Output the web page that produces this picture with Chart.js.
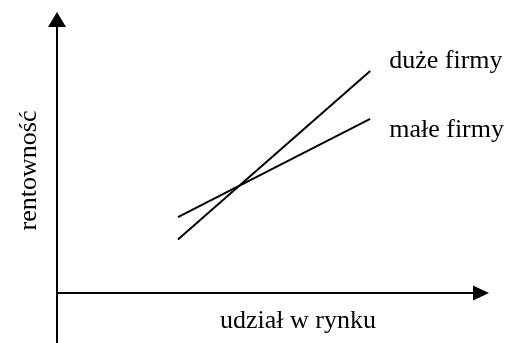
<!DOCTYPE html>
<html>
<head>
<meta charset="utf-8">
<script src="https://cdn.jsdelivr.net/npm/chart.js@4.4.1/dist/chart.umd.min.js"></script>
<style>
  html, body { margin: 0; padding: 0; background: #ffffff; }
  #wrap { width: 508px; height: 343px; }
</style>
</head>
<body>
<div id="wrap"><canvas id="c" width="508" height="343"></canvas></div>
<script>
// Market share (x) against profitability (y), conceptual scale 0–100
const marketShare = [28, 72.5];
const largeFirms = [19, 79];
const smallFirms = [27, 62];
const seriesNames = ['duże firmy', 'małe firmy'];
const xAxisTitle = 'udział w rynku';
const yAxisTitle = 'rentowność';

const FONT = '26px "Liberation Serif", "Times New Roman", serif';

function toPoints(xs, ys) {
  return xs.map((x, i) => ({ x: x, y: ys[i] }));
}

// Draws the arrowed axes, the axis titles and the line labels
const diagramPlugin = {
  id: 'diagram',
  afterDatasetsDraw(chart) {
    const ctx = chart.ctx;
    const xs = chart.scales.x, ys = chart.scales.y;
    const x0 = xs.getPixelForValue(xs.min);
    const x1 = xs.getPixelForValue(xs.max);
    const y0 = ys.getPixelForValue(ys.min);
    const y1 = ys.getPixelForValue(ys.max);
    ctx.save();
    ctx.strokeStyle = '#000';
    ctx.fillStyle = '#000';
    ctx.lineWidth = 2;
    // vertical axis, running slightly below the horizontal one
    ctx.beginPath();
    ctx.moveTo(x0, chart.height);
    ctx.lineTo(x0, y1 + 15);
    ctx.stroke();
    ctx.beginPath();
    ctx.moveTo(x0, y1);
    ctx.lineTo(x0 - 9, y1 + 15);
    ctx.lineTo(x0 + 9, y1 + 15);
    ctx.closePath();
    ctx.fill();
    // horizontal axis
    ctx.beginPath();
    ctx.moveTo(x0, y0);
    ctx.lineTo(x1 - 16, y0);
    ctx.stroke();
    ctx.beginPath();
    ctx.moveTo(x1, y0);
    ctx.lineTo(x1 - 16, y0 - 7.5);
    ctx.lineTo(x1 - 16, y0 + 7.5);
    ctx.closePath();
    ctx.fill();

    ctx.font = FONT;
    ctx.textBaseline = 'alphabetic';
    // x-axis title
    ctx.textAlign = 'center';
    ctx.fillText(xAxisTitle, (x0 + x1) / 2 + 25, y0 + 35);
    // y-axis title, rotated
    ctx.save();
    ctx.translate(x0 - 21, (y0 + y1) / 2 + 18);
    ctx.rotate(-Math.PI / 2);
    ctx.fillText(yAxisTitle, 0, 0);
    ctx.restore();
    // labels at the end of each line
    ctx.textAlign = 'left';
    chart.data.datasets.forEach((ds, i) => {
      const meta = chart.getDatasetMeta(i);
      const last = meta.data[meta.data.length - 1];
      ctx.fillText(ds.label, last.x + 19, i === 0 ? last.y - 3 : last.y + 18);
    });
    ctx.restore();
  }
};

new Chart(document.getElementById('c'), {
  type: 'scatter',
  data: {
    datasets: [
      { label: seriesNames[0], data: toPoints(marketShare, largeFirms) },
      { label: seriesNames[1], data: toPoints(marketShare, smallFirms) }
    ]
  },
  options: {
    responsive: false,
    animation: false,
    devicePixelRatio: 1,
    showLine: true,
    layout: { padding: { left: 57, right: 19, top: 12, bottom: 50 } },
    elements: {
      line: { borderColor: '#000', borderWidth: 2, tension: 0 },
      point: { radius: 0, hoverRadius: 0 }
    },
    scales: {
      x: { type: 'linear', min: 0, max: 100, display: false },
      y: { type: 'linear', min: 0, max: 100, display: false }
    },
    plugins: {
      legend: { display: false },
      tooltip: { enabled: false }
    }
  },
  plugins: [diagramPlugin]
});
</script>
</body>
</html>
